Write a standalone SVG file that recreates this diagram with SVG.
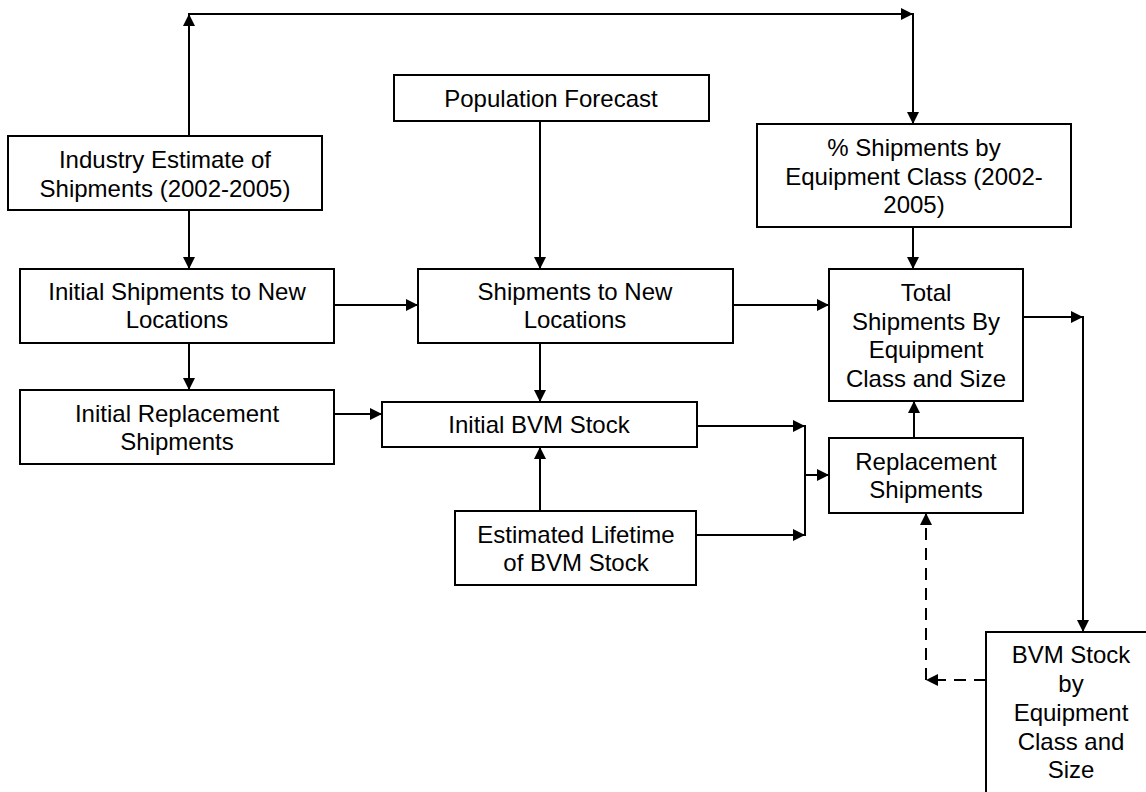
<svg xmlns="http://www.w3.org/2000/svg" width="1146" height="792" viewBox="0 0 1146 792">
<style>
.box{fill:#fff;stroke:#000;stroke-width:2}
.t{font-family:"Liberation Sans",Arial,sans-serif;font-size:24px;fill:#000;text-anchor:middle}
.c{fill:none;stroke:#000;stroke-width:2}
.d{fill:none;stroke:#000;stroke-width:2;stroke-dasharray:12,8}
</style>
<defs>
<marker id="ah" markerUnits="userSpaceOnUse" markerWidth="12" markerHeight="12" viewBox="0 0 12 12" refX="12" refY="6" orient="auto">
<path d="M0,0 L12,6 L0,12 Z" fill="#000"/>
</marker>
</defs>
<rect width="1146" height="792" fill="#fff"/>
<g id="connectors">
<line class="c" x1="189" y1="136" x2="189" y2="14" marker-end="url(#ah)"/>
<line class="c" x1="188" y1="14" x2="913" y2="14" marker-end="url(#ah)"/>
<line class="c" x1="913" y1="13" x2="913" y2="124" marker-end="url(#ah)"/>
<line class="c" x1="189" y1="210" x2="189" y2="269" marker-end="url(#ah)"/>
<line class="c" x1="334" y1="305" x2="418" y2="305" marker-end="url(#ah)"/>
<line class="c" x1="189" y1="343" x2="189" y2="390" marker-end="url(#ah)"/>
<line class="c" x1="540" y1="121" x2="540" y2="269" marker-end="url(#ah)"/>
<line class="c" x1="540" y1="343" x2="540" y2="402" marker-end="url(#ah)"/>
<line class="c" x1="733" y1="305" x2="829" y2="305" marker-end="url(#ah)"/>
<line class="c" x1="913" y1="227" x2="913" y2="269" marker-end="url(#ah)"/>
<line class="c" x1="334" y1="414" x2="382" y2="414" marker-end="url(#ah)"/>
<line class="c" x1="540" y1="511" x2="540" y2="447" marker-end="url(#ah)"/>
<line class="c" x1="697" y1="426" x2="805" y2="426" marker-end="url(#ah)"/>
<line class="c" x1="696" y1="535" x2="805" y2="535" marker-end="url(#ah)"/>
<line class="c" x1="805" y1="425" x2="805" y2="536"/>
<line class="c" x1="805" y1="475" x2="829" y2="475" marker-end="url(#ah)"/>
<line class="c" x1="914" y1="438" x2="914" y2="401" marker-end="url(#ah)"/>
<line class="c" x1="1023" y1="317" x2="1083" y2="317" marker-end="url(#ah)"/>
<line class="c" x1="1083" y1="316" x2="1083" y2="632" marker-end="url(#ah)"/>
<line class="d" x1="986" y1="680" x2="926" y2="680" marker-end="url(#ah)"/>
<line class="d" x1="926" y1="680" x2="926" y2="513" marker-end="url(#ah)"/>
</g>
<g id="n-industry">
<rect class="box" x="8" y="136" width="314" height="74"/>
<text class="t" x="165" y="168">Industry Estimate of</text>
<text class="t" x="165" y="197">Shipments (2002-2005)</text>
</g>
<g id="n-population">
<rect class="box" x="394" y="75" width="315" height="46"/>
<text class="t" x="551" y="107">Population Forecast</text>
</g>
<g id="n-pct">
<rect class="box" x="757" y="124" width="314" height="103"/>
<text class="t" x="914" y="156">% Shipments by</text>
<text class="t" x="914" y="185">Equipment Class (2002-</text>
<text class="t" x="914" y="213">2005)</text>
</g>
<g id="n-initial-ship">
<rect class="box" x="20" y="269" width="314" height="74"/>
<text class="t" x="177" y="300">Initial Shipments to New</text>
<text class="t" x="177" y="328">Locations</text>
</g>
<g id="n-ship-new">
<rect class="box" x="418" y="269" width="315" height="74"/>
<text class="t" x="575" y="300">Shipments to New</text>
<text class="t" x="575" y="328">Locations</text>
</g>
<g id="n-total">
<rect class="box" x="829" y="269" width="194" height="132"/>
<text class="t" x="926" y="301">Total</text>
<text class="t" x="926" y="330">Shipments By</text>
<text class="t" x="926" y="358">Equipment</text>
<text class="t" x="926" y="387">Class and Size</text>
</g>
<g id="n-initial-repl">
<rect class="box" x="20" y="390" width="314" height="74"/>
<text class="t" x="177" y="422">Initial Replacement</text>
<text class="t" x="177" y="450">Shipments</text>
</g>
<g id="n-initial-bvm">
<rect class="box" x="382" y="402" width="315" height="45"/>
<text class="t" x="539" y="433">Initial BVM Stock</text>
</g>
<g id="n-lifetime">
<rect class="box" x="455" y="511" width="241" height="74"/>
<text class="t" x="576" y="543">Estimated Lifetime</text>
<text class="t" x="576" y="571">of BVM Stock</text>
</g>
<g id="n-repl">
<rect class="box" x="829" y="438" width="194" height="75"/>
<text class="t" x="926" y="470">Replacement</text>
<text class="t" x="926" y="498">Shipments</text>
</g>
<g id="n-bvm-stock">
<rect class="box" x="986" y="632" width="170" height="180"/>
<text class="t" x="1071" y="663">BVM Stock</text>
<text class="t" x="1071" y="692">by</text>
<text class="t" x="1071" y="721">Equipment</text>
<text class="t" x="1071" y="750">Class and</text>
<text class="t" x="1071" y="778">Size</text>
</g>
</svg>
